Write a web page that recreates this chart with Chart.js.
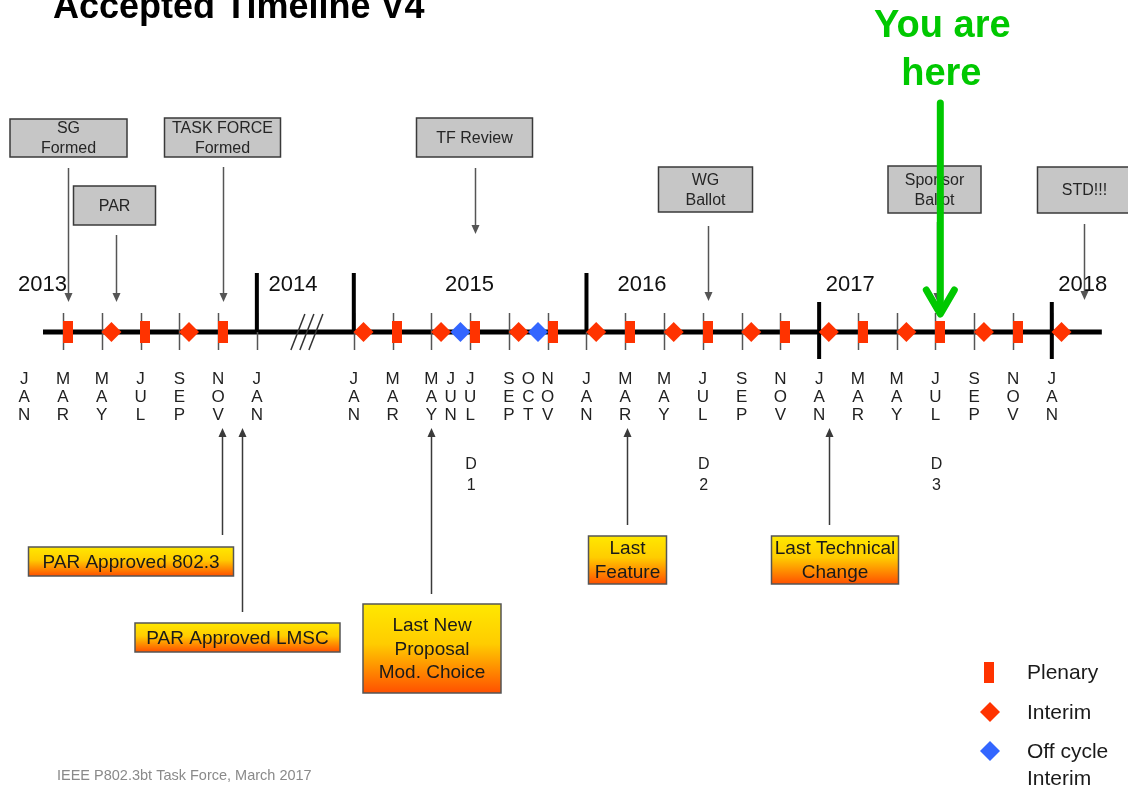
<!DOCTYPE html>
<html>
<head>
<meta charset="utf-8">
<script src="https://cdn.jsdelivr.net/npm/chart.js@4.4.1/dist/chart.umd.min.js"></script>
<style>
html,body{margin:0;padding:0;background:#ffffff;overflow:hidden}
#wrap{position:relative;width:1128px;height:787px}
</style>
</head>
<body>
<div id="wrap"><canvas id="c"></canvas></div>
<script>
// ---- DATA ----
// Month index: 0 = Jan 2013, 12 = Jan 2014 (2014 compressed), 17 = Jan 2015, 29 = Jan 2016, 41 = Jan 2017, 53 = Jan 2018
const monthLabelPos = [0,2,4,6,8,10,12,17,19,21,22,23,25,26,27,29,31,33,35,37,39,41,43,45,47,49,51,53];
const monthLabels = ['JAN','MAR','MAY','JUL','SEP','NOV','JAN','JAN','MAR','MAY','JUN','JUL','SEP','OCT','NOV','JAN','MAR','MAY','JUL','SEP','NOV','JAN','MAR','MAY','JUL','SEP','NOV','JAN'];
const tickMonths = [2,4,6,8,10,12,17,19,21,23,25,27,29,31,33,35,37,39,41,43,45,47,49,51,53];
const yearLabels = ['2013','2014','2015','2016','2017','2018'];
const yearLabelPos = [0.94,13.86,22.97,31.86,42.6,54.6];
const yearStarts = [12,17,29,41,53];
const plenaryMonths = [2.25,6.25,10.25,19.25,23.25,27.25,31.25,35.25,39.25,43.25,47.25,51.25];
const interimMonths = [4.5,8.5,17.5,21.5,25.5,29.5,33.5,37.5,41.5,45.5,49.5,53.5];
const offCycleMonths = [22.5,26.5];
const aboveLabels = [['SG','Formed'],['PAR'],['TASK FORCE','Formed'],['TF Review'],['WG','Ballot'],['Sponsor','Ballot'],['STD!!!']];
const aboveMonths = [2.25,4.75,10.25,23.25,35.25,47.1,54.65];
const belowLabels = [['PAR Approved 802.3'],['PAR Approved LMSC'],['Last New','Proposal','Mod. Choice'],['Last','Feature'],['Last Technical','Change']];
const belowMonths = [10.2,11.25,21,31.1,41.5];
const draftLabels = [['D','1'],['D','2'],['D','3']];
const draftMonths = [23,35,47];
const youAreHereMonth = 47.25;
const legendLabels = [['Plenary'],['Interim'],['Off cycle','Interim']];

// ---- LAYOUT / STYLE ----
const FONT = "'Liberation Sans', Arial, Helvetica, sans-serif";
const RED = '#ff3300', BLUE = '#3366ff', GREEN = '#00c800';
const LINE_START = 0.97, LINE_END = 55.58;
const SLASH_POS = 14.58;
// [dx, top, width, height, arrowStart, arrowTip]
const aboveLayout = [
  [0,119,117,38,168,302],[-2,186,82,39,235,302],[-1,118,116,39,167,302],[-1,118,116,39,168,234],
  [-3,167,94,45,226,301],[-3,166,93,47,222,302],[0,167,94,46,224,300]
];
const belowLayout = [
  [-91.5,547,205,29,535,428],[-5,623,205,29,612,428],[0.5,604,138,89,594,428],[0,536,78,48,525,428],[5.5,536,127,48,525,428]
];

const plenaryImg = document.createElement('canvas');
plenaryImg.width = 10; plenaryImg.height = 22;
(function(){ const g = plenaryImg.getContext('2d'); g.fillStyle = RED; g.fillRect(0,0,10,22); })();

function arrow(ctx, x, y1, y2, color, lw) {
  const dir = y2 > y1 ? 1 : -1;
  ctx.strokeStyle = color; ctx.fillStyle = color; ctx.lineWidth = lw;
  ctx.beginPath(); ctx.moveTo(x, y1); ctx.lineTo(x, y2 - dir * 8); ctx.stroke();
  ctx.beginPath(); ctx.moveTo(x, y2); ctx.lineTo(x - 4, y2 - dir * 9); ctx.lineTo(x + 4, y2 - dir * 9); ctx.closePath(); ctx.fill();
}

const timelinePlugin = {
  id: 'timeline',
  beforeDatasetsDraw(chart) {
    const ctx = chart.ctx, xs = chart.scales.x, ys = chart.scales.y;
    const Y = ys.getPixelForValue(0);
    ctx.save();
    // title
    ctx.fillStyle = '#000'; ctx.font = 'bold 36px ' + FONT; ctx.textAlign = 'left'; ctx.textBaseline = 'alphabetic';
    ctx.fillText('Accepted Timeline V4', 53, 18);
    // main line
    ctx.strokeStyle = '#000'; ctx.lineWidth = 5; ctx.lineCap = 'butt';
    ctx.beginPath(); ctx.moveTo(xs.getPixelForValue(LINE_START), Y); ctx.lineTo(xs.getPixelForValue(LINE_END), Y); ctx.stroke();
    // thin ticks
    ctx.strokeStyle = '#555'; ctx.lineWidth = 1.5;
    tickMonths.forEach(m => { const x = Math.round(xs.getPixelForValue(m)) + 0.5; ctx.beginPath(); ctx.moveTo(x, Y - 19); ctx.lineTo(x, Y + 18); ctx.stroke(); });
    // year boundaries
    ctx.strokeStyle = '#000'; ctx.lineWidth = 4;
    yearStarts.forEach((m, i) => {
      const x = xs.getPixelForValue(m);
      ctx.beginPath();
      if (i < 3) { ctx.moveTo(x, Y - 59); ctx.lineTo(x, Y); } else { ctx.moveTo(x, Y - 30); ctx.lineTo(x, Y + 27); }
      ctx.stroke();
    });
    // break slashes
    ctx.strokeStyle = '#333'; ctx.lineWidth = 1.5;
    const sx = xs.getPixelForValue(SLASH_POS);
    [-9, 0, 9].forEach(o => { ctx.beginPath(); ctx.moveTo(sx + o - 7, Y + 18); ctx.lineTo(sx + o + 7, Y - 18); ctx.stroke(); });
    // year labels
    ctx.fillStyle = '#111'; ctx.font = '22px ' + FONT; ctx.textAlign = 'center'; ctx.textBaseline = 'middle';
    yearLabels.forEach((t, i) => ctx.fillText(t, xs.getPixelForValue(yearLabelPos[i]), Y - 47));
    // month labels
    ctx.fillStyle = '#222'; ctx.font = '17px ' + FONT;
    monthLabels.forEach((t, i) => {
      const x = xs.getPixelForValue(monthLabelPos[i]);
      t.split('').forEach((ch, j) => ctx.fillText(ch, x, Y + 47 + j * 18));
    });
    // draft labels
    ctx.font = '16px ' + FONT;
    draftLabels.forEach((lines, i) => {
      const x = xs.getPixelForValue(draftMonths[i]) + 1;
      lines.forEach((ch, j) => ctx.fillText(ch, x, Y + 133 + j * 21));
    });
    ctx.restore();
  },
  afterDatasetsDraw(chart) {
    const ctx = chart.ctx, xs = chart.scales.x;
    ctx.save();
    // top milestones
    aboveLabels.forEach((lines, i) => {
      const [dx, top, w, h, a1, a2] = aboveLayout[i];
      const ax = Math.round(xs.getPixelForValue(aboveMonths[i])) + 0.5;
      arrow(ctx, ax, a1, a2, '#555', 1.5);
      const cx = ax + dx;
      ctx.fillStyle = '#c6c6c6'; ctx.fillRect(cx - w / 2, top, w, h);
      ctx.strokeStyle = '#3a3a3a'; ctx.lineWidth = 1.5; ctx.strokeRect(cx - w / 2, top, w, h);
      ctx.fillStyle = '#262626'; ctx.font = '16px ' + FONT; ctx.textAlign = 'center'; ctx.textBaseline = 'middle';
      const lh = 20, cy = top + h / 2 + 1;
      lines.forEach((t, j) => ctx.fillText(t, cx, cy + (j - (lines.length - 1) / 2) * lh));
    });
    // bottom milestones
    belowLabels.forEach((lines, i) => {
      const [dx, top, w, h, a1, a2] = belowLayout[i];
      const ax = Math.round(xs.getPixelForValue(belowMonths[i])) + 0.5;
      arrow(ctx, ax, a1, a2, '#3a3a3a', 1.5);
      const cx = ax + dx;
      const g = ctx.createLinearGradient(0, top, 0, top + h);
      g.addColorStop(0, '#ffe800'); g.addColorStop(0.45, '#ffcc00'); g.addColorStop(1, '#ff5000');
      ctx.fillStyle = g; ctx.fillRect(cx - w / 2, top, w, h);
      ctx.strokeStyle = '#555'; ctx.lineWidth = 1.5; ctx.strokeRect(cx - w / 2, top, w, h);
      ctx.fillStyle = '#1a1a1a'; ctx.font = '19px ' + FONT; ctx.textAlign = 'center'; ctx.textBaseline = 'middle';
      const lh = 23.5, cy = top + h / 2 + 1;
      lines.forEach((t, j) => ctx.fillText(t, cx, cy + (j - (lines.length - 1) / 2) * lh));
    });
    // legend
    ctx.fillStyle = RED; ctx.fillRect(984, 662, 10, 21);
    const dia = (x, y, c) => { ctx.fillStyle = c; ctx.beginPath(); ctx.moveTo(x - 10, y); ctx.lineTo(x, y - 10); ctx.lineTo(x + 10, y); ctx.lineTo(x, y + 10); ctx.closePath(); ctx.fill(); };
    dia(990, 712, RED); dia(990, 751, BLUE);
    ctx.fillStyle = '#1a1a1a'; ctx.font = '21px ' + FONT; ctx.textAlign = 'left'; ctx.textBaseline = 'middle';
    const legY = [[673], [713], [752, 779]];
    legendLabels.forEach((lines, i) => lines.forEach((t, j) => ctx.fillText(t, 1027, legY[i][j])));
    // footer
    ctx.fillStyle = '#8a8a8a'; ctx.font = '14.5px ' + FONT; ctx.textBaseline = 'middle';
    ctx.fillText('IEEE P802.3bt Task Force, March 2017', 57, 776);
    // you are here
    const gx = xs.getPixelForValue(youAreHereMonth);
    ctx.strokeStyle = GREEN; ctx.lineWidth = 7; ctx.lineCap = 'round'; ctx.lineJoin = 'round';
    ctx.beginPath(); ctx.moveTo(gx, 103); ctx.lineTo(gx, 312); ctx.stroke();
    ctx.beginPath(); ctx.moveTo(gx - 14, 290); ctx.lineTo(gx, 314); ctx.lineTo(gx + 14, 290); ctx.stroke();
    ctx.fillStyle = GREEN; ctx.font = 'bold 38px ' + FONT; ctx.textAlign = 'center'; ctx.textBaseline = 'alphabetic';
    ctx.fillText('You are', gx + 2, 37);
    ctx.fillText('here', gx + 1, 85);
    ctx.restore();
  }
};

const toPts = arr => arr.map(m => ({ x: m, y: 0 }));

new Chart(document.getElementById('c'), {
  type: 'scatter',
  data: {
    datasets: [
      { label: 'Plenary', data: toPts(plenaryMonths), pointStyle: plenaryImg, pointRadius: 5, backgroundColor: RED, borderWidth: 0 },
      { label: 'Interim', data: toPts(interimMonths), pointStyle: 'rectRot', pointRadius: 10, backgroundColor: RED, borderWidth: 0 },
      { label: 'Off cycle Interim', data: toPts(offCycleMonths), pointStyle: 'rectRot', pointRadius: 10, backgroundColor: BLUE, borderWidth: 0 }
    ]
  },
  options: {
    responsive: true, maintainAspectRatio: false, animation: false,
    layout: { padding: 0, autoPadding: false },
    plugins: { legend: { display: false }, tooltip: { enabled: false } },
    events: [],
    scales: {
      x: { type: 'linear', display: false, min: -1.248, max: 56.93 },
      y: { type: 'linear', display: false, min: -455, max: 332 }
    }
  },
  plugins: [timelinePlugin]
});
</script>
</body>
</html>
